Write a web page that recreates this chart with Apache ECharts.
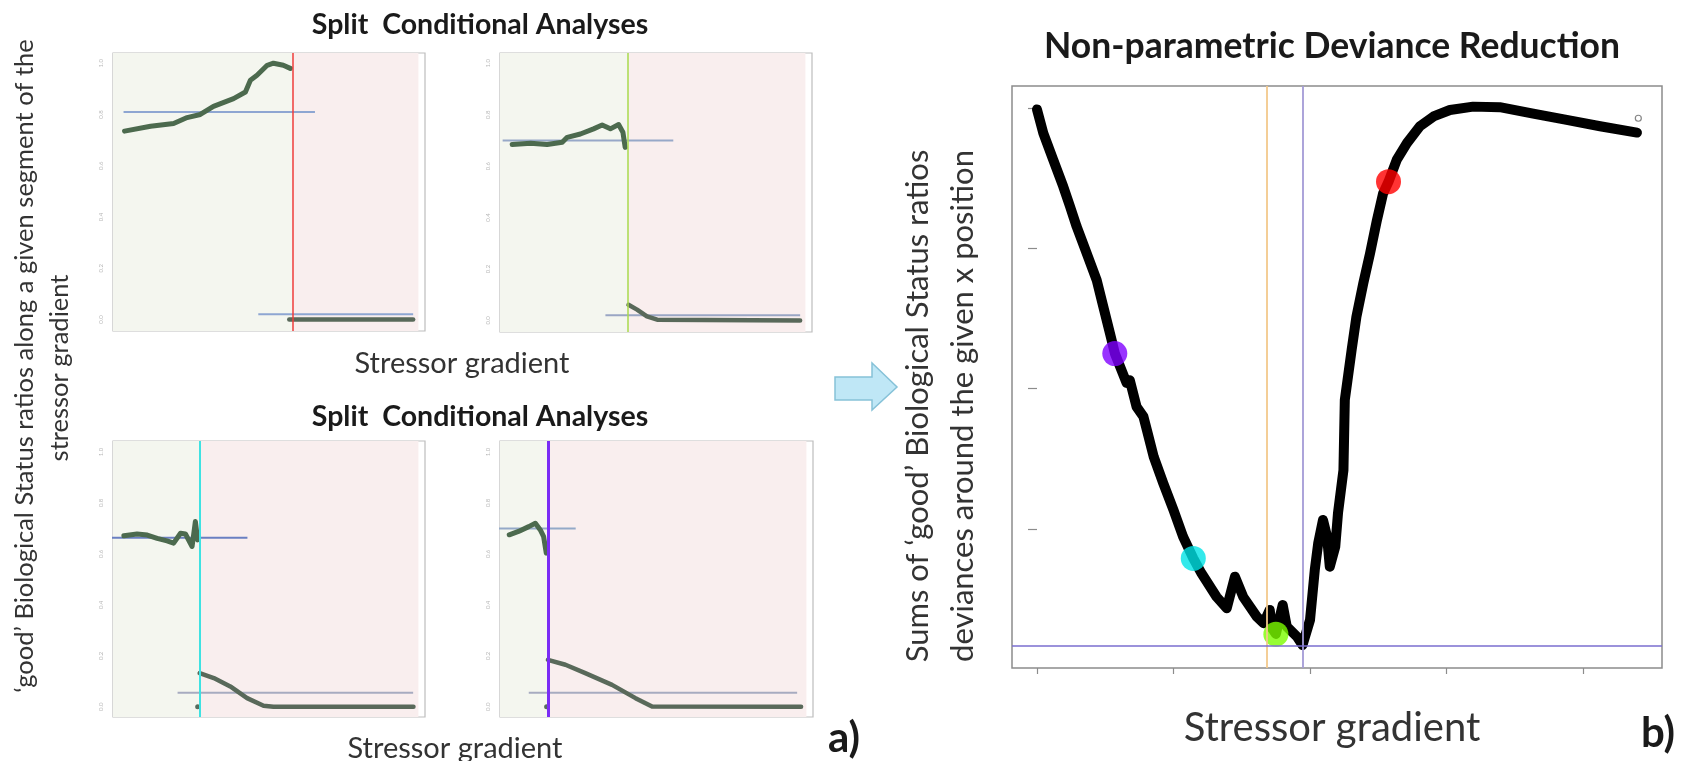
<!DOCTYPE html>
<html><head><meta charset="utf-8">
<script src="https://cdn.jsdelivr.net/npm/echarts@6/dist/echarts.min.js"></script>
<style>html,body{margin:0;padding:0;background:#fff}#c{width:1687px;height:761px}</style>
</head><body><div id="c"></div>
<script>
// ---------------- DATA ----------------
// split positions along the stressor gradient (TL red, TR green, BL cyan, BR purple)
const splitPoints = [51.2, 35.4, 22.9, 11.0];

// panel a, top-left
const tlLeft = [[0,0.735],[7.9,0.754],[14.9,0.765],[19.0,0.788],[23.0,0.80],[27.0,0.832],[33.1,0.862],[36.7,0.888],[38.2,0.934],[40.2,0.953],[43.3,0.992],[45.2,1.0],[48.2,0.992],[50.3,0.98]];
const tlRight = [[50.0,0.0],[87.6,0.0]];
const tlMeanLeft = [[-0.3,0.81],[57.8,0.81]];
const tlMeanRight = [[40.6,0.02],[87.6,0.02]];

// panel a, top-right
const trLeft = [[0.2,0.684],[5.8,0.689],[10.8,0.684],[15.4,0.693],[16.9,0.712],[20.9,0.725],[24.9,0.745],[27.5,0.76],[30.0,0.745],[32.5,0.762],[33.8,0.732],[34.5,0.673]];
const trRight = [[35.5,0.061],[38.1,0.042],[41.1,0.016],[44.2,0.003],[87.6,0.0]];
const trMeanLeft = [[-2.7,0.70],[49.1,0.70]];
const trMeanRight = [[28.5,0.02],[87.6,0.02]];

// panel a, bottom-left
const blLeft = [[-0.2,0.671],[3.8,0.678],[6.9,0.674],[9.9,0.661],[12.9,0.651],[14.9,0.642],[17.0,0.681],[18.5,0.678],[20.5,0.629],[21.5,0.727],[22.2,0.655]];
const blRight = [[22.8,0.132],[27.1,0.113],[32.1,0.08],[37.2,0.034],[42.2,0.004],[45.2,0.0],[87.7,0.0]];
const blMeanLeft = [[-6.7,0.663],[37.3,0.663]];
const blMeanRight = [[16.1,0.055],[87.6,0.055]];
const blDot = [[22.2,0.0]];

// panel a, bottom-right
const brLeft = [[-0.7,0.675],[2.1,0.688],[5.2,0.707],[7.2,0.72],[8.7,0.694],[9.7,0.668],[10.5,0.603]];
const brRight = [[11.0,0.184],[16.3,0.165],[22.3,0.132],[30.4,0.086],[37.5,0.034],[42.5,0.001],[87.6,0.0]];
const brMeanLeft = [[-3.9,0.70],[19.4,0.70]];
const brMeanRight = [[5.2,0.055],[86.4,0.055]];
const brDot = [[10.6,0.0]];

const panelYTicks = [0, 0.2, 0.4, 0.6, 0.8, 1.0];
const panelXTicks = [0, 20, 40, 60, 80];

// panel b: non-parametric deviance reduction
const devCurve = [[0,39.9],[0.93,38.2],[2.39,36.3],[3.85,34.4],[4.83,33.0],[5.81,31.55],[7.28,29.65],[8.74,27.75],[9.71,25.85],[10.69,23.95],[11.42,22.5],[13.13,20.4],[13.6,20.6],[14.6,18.7],[15.6,18.0],[16.1,17.05],[17.1,15.15],[18.5,13.26],[20.0,11.35],[21.4,9.45],[22.9,7.9],[24.1,6.84],[26.3,5.17],[27.8,4.35],[29.0,6.6],[30.2,5.17],[32.2,3.75],[33.2,3.28],[34.1,4.23],[34.4,2.94],[35.0,2.52],[36.0,4.58],[36.6,3.04],[38.1,2.32],[38.9,1.73],[40.0,3.51],[40.7,7.08],[41.2,8.98],[41.9,10.64],[42.5,9.45],[42.9,7.31],[43.7,8.74],[44.1,11.12],[44.9,14.2],[45.1,19.2],[46.1,22.76],[46.8,25.13],[47.8,27.5],[48.8,29.65],[49.8,32.0],[50.7,33.9],[51.5,34.75],[52.7,36.3],[54.2,37.5],[56.1,38.7],[58.1,39.4],[60.5,39.86],[63.9,40.1],[67.8,40.06],[72.7,39.6],[77.6,39.15],[82.5,38.7],[87.9,38.25]];
const devDotsX = [11.4, 22.9, 35.0, 51.5];
const devDotsY = [22.5, 7.9, 2.5, 34.75];
const devEndPoint = [[88.1, 39.27]];
const devOrangeX = 33.7;
const devMinX = 38.9;
const devMinY = 1.66;
const devXTicks = [0, 20, 40, 60, 80];
const devYTicks = [10, 20, 30, 40];

// ---------------- CHART ----------------
const FONT = 'Lato';
const splitColors = ['#ef3b3b', '#a8da4c', '#3fe2e2', '#7a2cf5'];
const splitWidths = [1.5, 1.5, 2, 3];
const dotColors = ['#7f00ff', '#00e3e6', '#7cfc00', '#ff0000'];
const curveColor = '#4c6a4e';

const grids = [
  {left:113, top:53, width:312, height:278},
  {left:500, top:53, width:312, height:279},
  {left:113, top:441, width:312, height:276},
  {left:500, top:441, width:313, height:276},
  {left:1012, top:86, width:650, height:582}
].map((g, i) => Object.assign({show:true, borderColor: i === 4 ? '#8c8c8c' : '#bdbdbd', borderWidth: i === 4 ? 1.5 : 1.2, backgroundColor:'transparent'}, g));

const xAxes = [], yAxes = [];
for (let i = 0; i < 4; i++) {
  const bottom = i >= 2;
  xAxes.push({type:'value', gridIndex:i, min:-3.5, max:91.2,
    axisLine:{show:false}, splitLine:{show:false}, axisLabel:{show:false},
    axisTick:{show:bottom, length:5, lineStyle:{color:'#a8a8a8'}, customValues:panelXTicks}});
  yAxes.push({type:'value', gridIndex:i, min: bottom ? -0.04 : -0.045, max: bottom ? 1.043 : 1.04,
    axisLine:{show:false}, splitLine:{show:false},
    axisTick:{show:true, length:5, lineStyle:{color:'#b0b0b0'}, customValues:panelYTicks},
    axisLabel:{show:true, rotate:90, fontSize:6, color:'#b8b8b8', margin:9, fontFamily:FONT,
      customValues:panelYTicks, formatter: v => v.toFixed(1)}});
}
xAxes.push({type:'value', gridIndex:4, min:-3.66, max:91.57, axisLine:{show:false}, splitLine:{show:false},
  axisLabel:{show:false}, axisTick:{show:true, length:6, lineStyle:{color:'#8c8c8c', width:1.2}, customValues:devXTicks}});
yAxes.push({type:'value', gridIndex:4, min:0.09, max:41.57, axisLine:{show:false}, splitLine:{show:false},
  axisLabel:{show:false}, axisTick:{show:true, length:9, lineStyle:{color:'#8c8c8c', width:1.2}, customValues:devYTicks}});

const panels = [
  {left:tlLeft, right:tlRight, mL:tlMeanLeft, mR:tlMeanRight, dot:null, mLc:'#8ea6d2', mRc:'#8ea6d2'},
  {left:trLeft, right:trRight, mL:trMeanLeft, mR:trMeanRight, dot:null, mLc:'#97a8c8', mRc:'#9aa6c4'},
  {left:blLeft, right:blRight, mL:blMeanLeft, mR:blMeanRight, dot:blDot, mLc:'#6a7fc2', mRc:'#a7abc0'},
  {left:brLeft, right:brRight, mL:brMeanLeft, mR:brMeanRight, dot:brDot, mLc:'#94a9c8', mRc:'#a7abc0'}
];

const series = [];
panels.forEach((p, i) => {
  const s = splitPoints[i];
  series.push({type:'line', xAxisIndex:i, yAxisIndex:i, data:[], silent:true, z:1,
    markArea:{silent:true, data:[
      [{xAxis:-3.5, itemStyle:{color:'#f4f6ef'}}, {xAxis:s}],
      [{xAxis:s, itemStyle:{color:'#f9eeee'}}, {xAxis:89.2}]
    ]}});
  series.push({type:'line', xAxisIndex:i, yAxisIndex:i, data:p.mL, symbol:'none', clip:false, z:2, silent:true,
    lineStyle:{color:p.mLc, width:2}});
  series.push({type:'line', xAxisIndex:i, yAxisIndex:i, data:p.mR, symbol:'none', clip:false, z:2, silent:true,
    lineStyle:{color:p.mRc, width:2}});
  series.push({type:'line', xAxisIndex:i, yAxisIndex:i, data:p.left, symbol:'none', z:3, silent:true,
    lineStyle:{color:curveColor, width:5, join:'round', cap:'round'}});
  series.push({type:'line', xAxisIndex:i, yAxisIndex:i, data:p.right, symbol:'none', z:3, silent:true,
    lineStyle:{color:'#59695a', width:4.5, join:'round', cap:'round'}});
  if (p.dot) series.push({type:'scatter', xAxisIndex:i, yAxisIndex:i, data:p.dot, symbolSize:5, z:3, silent:true,
    itemStyle:{color:'#2f4a3a'}});
  series.push({type:'line', xAxisIndex:i, yAxisIndex:i, data:[], silent:true, z:5,
    markLine:{silent:true, symbol:['none','none'], label:{show:false},
      lineStyle:{color:splitColors[i], width:splitWidths[i], type:'solid'}, data:[{xAxis:s}]}});
});

// panel b
series.push({type:'line', xAxisIndex:4, yAxisIndex:4, data:[], silent:true, z:1,
  markLine:{silent:true, symbol:['none','none'], label:{show:false}, data:[
    {xAxis:devOrangeX, lineStyle:{color:'#f3c98c', width:1.8, type:'solid'}},
    {xAxis:devMinX, lineStyle:{color:'#a49bd6', width:1.8, type:'solid'}},
    {yAxis:devMinY, lineStyle:{color:'#7a6ecf', width:1.5, type:'solid'}}
  ]}});
series.push({type:'line', xAxisIndex:4, yAxisIndex:4, data:devCurve, symbol:'none', z:3, silent:true,
  lineStyle:{color:'#000', width:10, join:'round', cap:'round'}});
series.push({type:'scatter', xAxisIndex:4, yAxisIndex:4, symbolSize:6, z:3, silent:true, data:devEndPoint,
  itemStyle:{color:'#fff', borderColor:'#666', borderWidth:1.2}});
series.push({type:'scatter', xAxisIndex:4, yAxisIndex:4, symbolSize:25, z:4, silent:true,
  data: devDotsX.map((x, k) => ({value:[x, devDotsY[k]], itemStyle:{color:dotColors[k]}}))});

function txt(x, y, text, size, opts) {
  return Object.assign({type:'text', x, y, silent:true, style:Object.assign({text, fontSize:size, fontFamily:FONT,
    fill:'#1a1a1a', align:'center', verticalAlign:'middle'}, (opts && opts.style) || {})},
    opts && opts.rotation ? {rotation:opts.rotation} : {});
}

const graphic = [
  txt(480, 25, 'Split  Conditional Analyses', 28.5, {style:{fontWeight:'bold'}}),
  txt(480, 417, 'Split  Conditional Analyses', 28.5, {style:{fontWeight:'bold'}}),
  txt(462, 364, 'Stressor gradient', 29, {style:{fill:'#333'}}),
  txt(455, 749, 'Stressor gradient', 29, {style:{fill:'#333'}}),
  txt(25, 366, '\u2018good\u2019 Biological Status ratios along a given segment of the', 25.5, {rotation:Math.PI/2, style:{fill:'#333'}}),
  txt(60, 368, 'stressor gradient', 25.5, {rotation:Math.PI/2, style:{fill:'#333'}}),
  txt(1332, 47, 'Non-parametric Deviance Reduction', 35.5, {style:{fontWeight:'bold'}}),
  txt(918, 406, 'Sums of \u2018good\u2019 Biological Status ratios', 31, {rotation:Math.PI/2, style:{fill:'#333'}}),
  txt(963, 406, 'deviances around the given x position', 31, {rotation:Math.PI/2, style:{fill:'#333'}}),
  txt(1332, 728, 'Stressor gradient', 40, {style:{fill:'#333'}}),
  txt(844, 738, 'a)', 42, {style:{fontWeight:'bold'}}),
  txt(1658, 733, 'b)', 42, {style:{fontWeight:'bold'}}),
  {type:'polygon', silent:true, shape:{points:[[835,377],[872,377],[872,363],[897,387],[872,410],[872,400],[835,400]]},
    style:{fill:'#bfe7f6', stroke:'#86c2d8', lineWidth:1.5}}
];

const chart = echarts.init(document.getElementById('c'), null, {renderer:'canvas'});
chart.setOption({animation:false, backgroundColor:'#fff', grid:grids, xAxis:xAxes, yAxis:yAxes, series, graphic});
</script></body></html>
